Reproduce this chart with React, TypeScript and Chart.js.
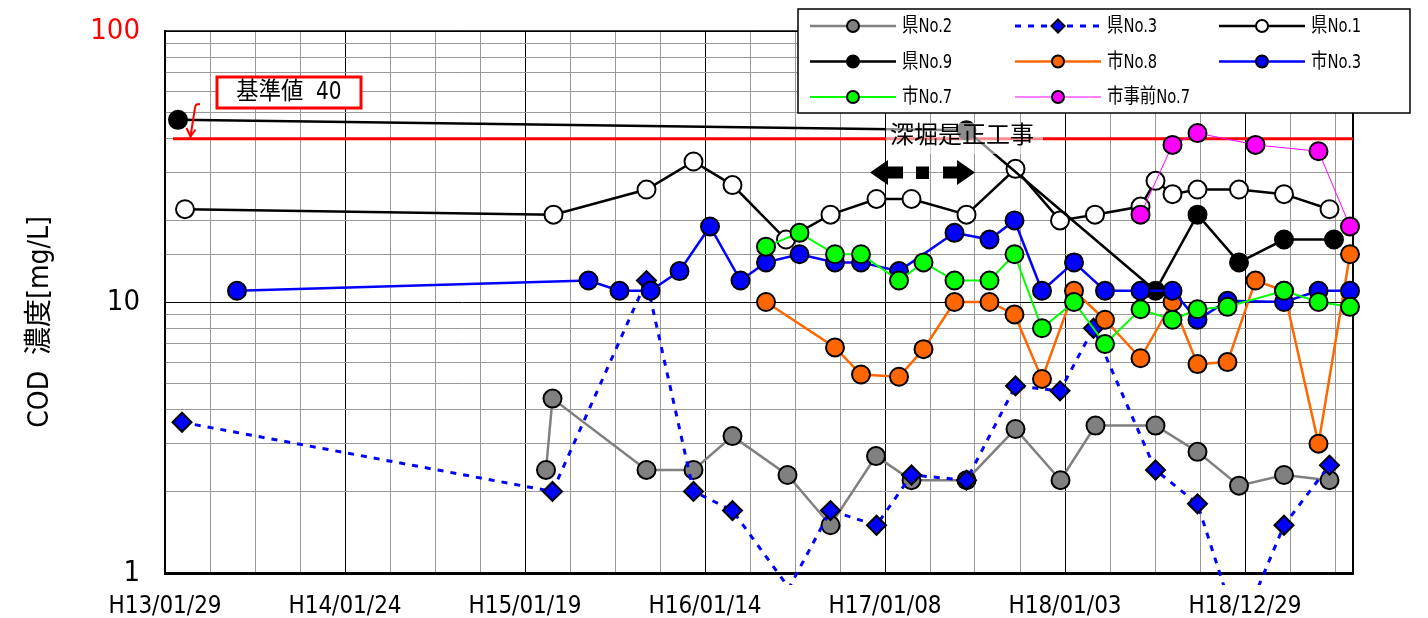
import React, { useEffect, useRef } from 'react';
import { Chart, registerables } from 'chart.js';

Chart.register(...registerables);

// x values: elapsed days since H13/01/29 (one grid step = 90 days, labelled step = 360 days)
const TICK_DATES = ['H13/01/29', 'H14/01/24', 'H15/01/19', 'H16/01/14', 'H17/01/08', 'H18/01/03', 'H18/12/29'];
const X_MAX_DAYS = 2376;
const Y_LABELS = [1, 10, 100];
const STANDARD_VALUE = 40;

const kenNo2Days = [762, 775, 963, 1057, 1135, 1245, 1331, 1422, 1493, 1603, 1701, 1791, 1861, 1981, 2065, 2148, 2238, 2329];
const kenNo2 = [2.4, 4.4, 2.4, 2.4, 3.2, 2.3, 1.5, 2.7, 2.2, 2.2, 3.4, 2.2, 3.5, 3.5, 2.8, 2.1, 2.3, 2.2];

const kenNo3Days = [34, 775, 963, 1057, 1135, 1248, 1331, 1423, 1493, 1603, 1701, 1790, 1857, 1981, 2065, 2148, 2238, 2329];
const kenNo3 = [3.6, 2.0, 12, 2.0, 1.7, 0.88, 1.7, 1.5, 2.3, 2.2, 4.9, 4.7, 8.0, 2.4, 1.8, 0.6, 1.5, 2.5];

const kenNo1Days = [40, 777, 963, 1057, 1135, 1242, 1331, 1423, 1493, 1603, 1701, 1790, 1860, 1951, 1981, 2015, 2065, 2148, 2238, 2329];
const kenNo1 = [22, 21, 26, 33, 27, 17, 21, 24, 24, 21, 31, 20, 21, 22.5, 28, 25, 26, 26, 25, 22];

const kenNo9Days = [26, 1603, 1981, 2065, 2148, 2238, 2338];
const kenNo9 = [47, 43, 11, 21, 14, 17, 17];

const shiNo8Days = [1202, 1340, 1392, 1468, 1517, 1579, 1649, 1699, 1754, 1818, 1880, 1951, 2015, 2065, 2125, 2181, 2238, 2307, 2370];
const shiNo8 = [10, 6.8, 5.4, 5.3, 6.7, 10, 10, 9.0, 5.2, 11, 8.6, 6.2, 10, 5.9, 6.0, 12, 11, 3.0, 15];

const shiNo3Days = [144, 847, 909, 971, 1029, 1090, 1151, 1202, 1269, 1340, 1392, 1468, 1579, 1649, 1699, 1754, 1818, 1880, 1951, 2015, 2065, 2125, 2238, 2307, 2370];
const shiNo3 = [11, 12, 11, 11, 13, 19, 12, 14, 15, 14, 14, 13, 18, 17, 20, 11, 14, 11, 11, 11, 8.6, 10.1, 10, 11, 11];

const shiNo7Days = [1202, 1269, 1340, 1392, 1468, 1517, 1579, 1649, 1699, 1754, 1818, 1880, 1951, 2015, 2065, 2125, 2238, 2307, 2370];
const shiNo7 = [16, 18, 15, 15, 12, 14, 12, 12, 15, 8.0, 10, 7.0, 9.4, 8.6, 9.4, 9.6, 11, 10, 9.6];

const shiPreNo7Days = [1951, 2015, 2065, 2181, 2307, 2370];
const shiPreNo7 = [21, 38, 42, 38, 36, 19];

const FONT = "'DejaVu Sans Condensed', 'Liberation Sans Narrow', 'Noto Sans CJK JP', sans-serif";

type Series = {
  name: string;
  days: number[];
  vals: number[];
  line: string;
  fill: string;
  width: number;
  dash: number[];
  style: 'circle' | 'rectRot';
};

const SERIES: Series[] = [
  { name: '県No.2', days: kenNo2Days, vals: kenNo2, line: '#808080', fill: '#808080', width: 2.5, dash: [], style: 'circle' },
  { name: '県No.3', days: kenNo3Days, vals: kenNo3, line: '#0000FF', fill: '#0000FF', width: 3, dash: [6, 7], style: 'rectRot' },
  { name: '県No.1', days: kenNo1Days, vals: kenNo1, line: '#000000', fill: '#FFFFFF', width: 2.5, dash: [], style: 'circle' },
  { name: '県No.9', days: kenNo9Days, vals: kenNo9, line: '#000000', fill: '#000000', width: 2.5, dash: [], style: 'circle' },
  { name: '市No.8', days: shiNo8Days, vals: shiNo8, line: '#FF6600', fill: '#FF6600', width: 2.5, dash: [], style: 'circle' },
  { name: '市No.3', days: shiNo3Days, vals: shiNo3, line: '#0000FF', fill: '#0000FF', width: 2.5, dash: [], style: 'circle' },
  { name: '市No.7', days: shiNo7Days, vals: shiNo7, line: '#00FF00', fill: '#00FF00', width: 2, dash: [], style: 'circle' },
  { name: '市事前No.7', days: shiPreNo7Days, vals: shiPreNo7, line: '#FF00FF', fill: '#FF00FF', width: 1, dash: [], style: 'circle' },
];

function drawMarker(ctx: CanvasRenderingContext2D, s: Series, x: number, y: number, r: number) {
  ctx.beginPath();
  if (s.style === 'rectRot') {
    ctx.moveTo(x, y - r);
    ctx.lineTo(x + r, y);
    ctx.lineTo(x, y + r);
    ctx.lineTo(x - r, y);
    ctx.closePath();
  } else {
    ctx.arc(x, y, r, 0, Math.PI * 2);
  }
  ctx.fillStyle = s.fill;
  ctx.fill();
  ctx.lineWidth = 2;
  ctx.strokeStyle = '#000';
  ctx.setLineDash([]);
  ctx.stroke();
}

// text drawn with horizontal compression, like the narrow original font
function narrowText(ctx: CanvasRenderingContext2D, text: string, x: number, y: number, sx: number, align: CanvasTextAlign) {
  ctx.save();
  ctx.translate(x, y);
  ctx.scale(sx, 1);
  ctx.textAlign = align;
  ctx.textBaseline = 'middle';
  ctx.fillText(text, 0, 0);
  ctx.restore();
}

const decorPlugin = {
  id: 'decor',
  beforeDatasetsDraw(chart: any) {
    const { ctx, chartArea: a, scales } = chart;
    ctx.save();
    ctx.strokeStyle = '#000';
    ctx.lineWidth = 1.5;
    ctx.beginPath();
    ctx.moveTo(a.left, a.top);
    ctx.lineTo(a.right, a.top);
    ctx.stroke();
    ctx.lineWidth = 2;
    ctx.beginPath();
    ctx.moveTo(a.right, a.top);
    ctx.lineTo(a.right, a.bottom);
    ctx.stroke();
    // standard value line
    const y = scales.y.getPixelForValue(STANDARD_VALUE);
    ctx.strokeStyle = '#FF0000';
    ctx.lineWidth = 3;
    ctx.beginPath();
    ctx.moveTo(a.left + 8, y);
    ctx.lineTo(a.right, y);
    ctx.stroke();
    ctx.restore();
  },
  afterDatasetsDraw(chart: any) {
    const { ctx } = chart;
    ctx.save();
    // construction note with translucent background
    ctx.fillStyle = 'rgba(255,255,255,0.55)';
    ctx.fillRect(886, 123, 157, 31);
    ctx.fillStyle = '#000';
    ctx.font = `24px ${FONT}`;
    narrowText(ctx, '深堀是正工事', 962, 137, 1, 'center');
    // period arrows
    ctx.beginPath();
    ctx.moveTo(870, 172.5);
    ctx.lineTo(888, 160);
    ctx.lineTo(888, 166.5);
    ctx.lineTo(903, 166.5);
    ctx.lineTo(903, 178.5);
    ctx.lineTo(888, 178.5);
    ctx.lineTo(888, 185);
    ctx.closePath();
    ctx.fill();
    ctx.fillRect(916, 166.5, 13, 12.5);
    ctx.beginPath();
    ctx.moveTo(975, 172.5);
    ctx.lineTo(957, 160);
    ctx.lineTo(957, 166.5);
    ctx.lineTo(943, 166.5);
    ctx.lineTo(943, 178.5);
    ctx.lineTo(957, 178.5);
    ctx.lineTo(957, 185);
    ctx.closePath();
    ctx.fill();
    // standard label box
    ctx.fillStyle = '#FFFFFF';
    ctx.fillRect(217, 77, 144, 31);
    ctx.strokeStyle = '#FF0000';
    ctx.lineWidth = 3;
    ctx.strokeRect(217, 77, 144, 31);
    ctx.fillStyle = '#000';
    ctx.font = `24px ${FONT}`;
    narrowText(ctx, '基準値  40', 289, 93, 0.93, 'center');
    // hook arrow pointing to the line
    ctx.strokeStyle = '#FF0000';
    ctx.lineWidth = 2;
    ctx.beginPath();
    ctx.moveTo(200, 104);
    ctx.lineTo(196.5, 104.5);
    ctx.quadraticCurveTo(195, 106, 194.5, 111);
    ctx.lineTo(190.5, 136.5);
    ctx.stroke();
    ctx.beginPath();
    ctx.moveTo(186.5, 128);
    ctx.lineTo(190.5, 136.5);
    ctx.lineTo(195.5, 129.5);
    ctx.stroke();
    ctx.restore();
  },
  afterDraw(chart: any) {
    const { ctx } = chart;
    ctx.save();
    // y axis title
    ctx.translate(41, 322);
    ctx.rotate(-Math.PI / 2);
    ctx.fillStyle = '#000';
    ctx.font = `28px ${FONT}`;
    ctx.textAlign = 'center';
    ctx.textBaseline = 'middle';
    ctx.fillText('COD  濃度[mg/L]', 0, 0);
    ctx.restore();

    // legend
    ctx.save();
    ctx.fillStyle = '#FFFFFF';
    ctx.fillRect(798, 9, 612, 104);
    ctx.strokeStyle = '#000';
    ctx.lineWidth = 1.5;
    ctx.strokeRect(798, 9, 612, 104);
    const rows = [26, 61.5, 97];
    const cols = [853, 1058, 1262];
    SERIES.forEach((s, i) => {
      const cx = cols[i % 3];
      const cy = rows[Math.floor(i / 3)];
      ctx.strokeStyle = s.line;
      ctx.lineWidth = s.width;
      ctx.setLineDash(s.dash);
      ctx.beginPath();
      ctx.moveTo(cx - 43, cy);
      ctx.lineTo(cx + 43, cy);
      ctx.stroke();
      ctx.setLineDash([]);
      drawMarker(ctx, s, cx, cy, s.style === 'rectRot' ? 6.5 : 6);
      ctx.fillStyle = '#000';
      ctx.font = `20px ${FONT}`;
      narrowText(ctx, s.name, cx + 49, cy + 1, 0.82, 'left');
    });
    ctx.restore();
  },
};

export default function App() {
  const ref = useRef<HTMLCanvasElement>(null);

  useEffect(() => {
    document.body.style.margin = '0';
    const canvas = ref.current;
    if (!canvas) return;
    const n = SERIES.length;
    const chart = new Chart(canvas, {
      type: 'line',
      data: {
        datasets: SERIES.map((s, i) => ({
          label: s.name,
          data: s.days.map((d, j) => ({ x: d, y: s.vals[j] })),
          borderColor: s.line,
          backgroundColor: s.fill,
          borderWidth: s.width,
          borderDash: s.dash,
          pointStyle: s.style,
          pointBackgroundColor: s.fill,
          pointBorderColor: '#000',
          pointBorderWidth: 2,
          pointRadius: (c: any) => (c.raw && c.raw.y < 1 ? 0 : s.style === 'rectRot' ? 9.5 : 9),
          pointHoverRadius: 0,
          tension: 0,
          fill: false,
          order: n - i,
          clip: { left: 15, right: 15, top: 15, bottom: 12 },
        })) as any,
      },
      options: {
        responsive: false,
        animation: false,
        devicePixelRatio: 1,
        events: [],
        layout: { padding: { left: 0, right: 75, top: 31, bottom: 0 } },
        plugins: {
          legend: { display: false },
          tooltip: { enabled: false },
          title: { display: false },
        },
        scales: {
          x: {
            type: 'linear',
            min: 0,
            max: X_MAX_DAYS,
            afterFit: (s: any) => {
              s.height = 45;
              s.paddingLeft = 0;
              s.paddingRight = 0;
            },
            ticks: {
              stepSize: 90,
              autoSkip: false,
              maxRotation: 0,
              minRotation: 0,
              includeBounds: false,
              padding: 19,
              color: '#000',
              font: { family: FONT, size: 24 },
              callback: (v: any) => (Number(v) % 360 === 0 ? TICK_DATES[Number(v) / 360] ?? '' : ''),
            },
            grid: {
              drawTicks: false,
              lineWidth: 1,
              color: (c: any) => (c.tick && c.tick.value % 360 === 0 ? '#000000' : '#999999'),
            },
            border: { color: '#000', width: 3 },
          },
          y: {
            type: 'logarithmic',
            min: 1,
            max: 100,
            afterFit: (s: any) => {
              s.width = 165;
              s.paddingTop = 0;
              s.paddingBottom = 0;
            },
            ticks: {
              autoSkip: false,
              padding: 25,
              color: (c: any) => (c.tick && c.tick.value === 100 ? '#FF0000' : '#000000'),
              font: { family: FONT, size: 29 },
              callback: (v: any) => (Y_LABELS.includes(Number(v)) ? String(v) : ''),
            },
            grid: {
              drawTicks: false,
              lineWidth: 1,
              color: (c: any) => (c.tick && Y_LABELS.includes(c.tick.value) ? '#000000' : '#999999'),
            },
            border: { color: '#000', width: 1.5 },
          },
        },
      } as any,
      plugins: [decorPlugin],
    });
    return () => chart.destroy();
  }, []);

  return <canvas ref={ref} width={1428} height={618} style={{ display: 'block', width: 1428, height: 618 }} />;
}
